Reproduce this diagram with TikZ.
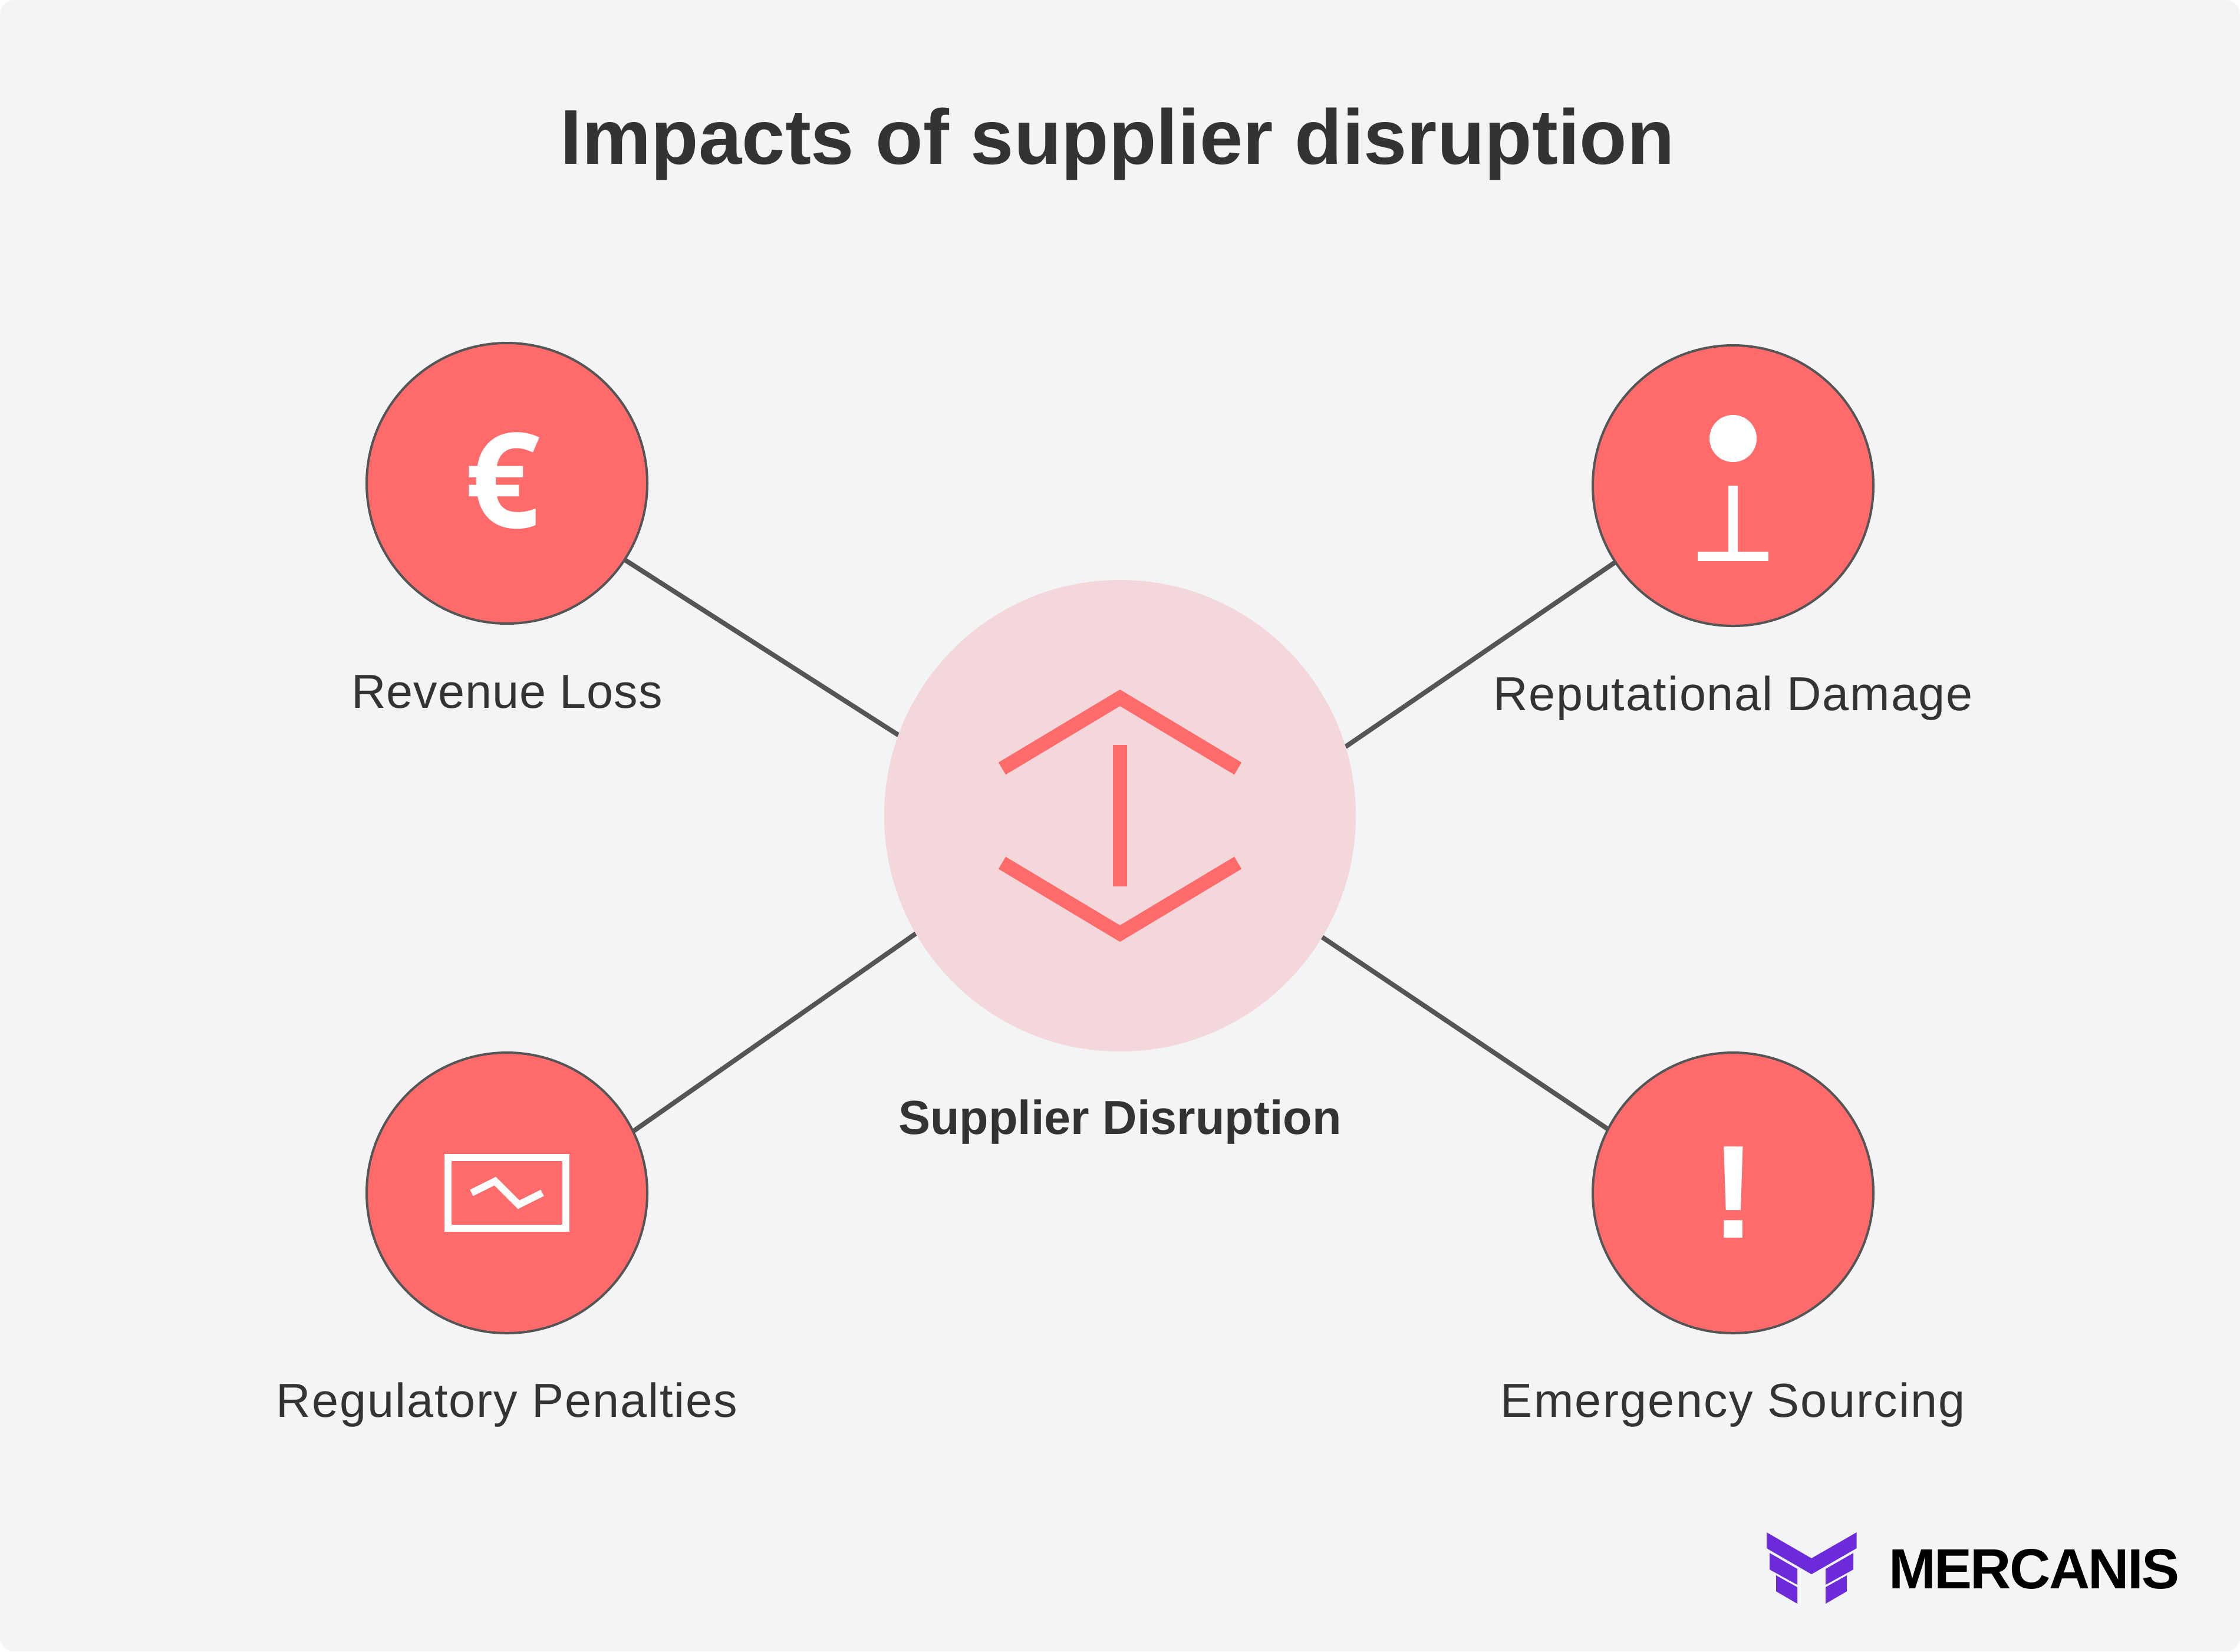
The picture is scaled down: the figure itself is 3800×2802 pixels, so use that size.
\documentclass[tikz,border=0pt]{standalone}
\usepackage{fontspec}
\setmainfont{Liberation Sans}
\newfontfamily\iconfont{Open Sans}[UprightFont=* Bold]
\newfontfamily\bangfont{Liberation Sans Bold}
\newfontfamily\titlefont{Liberation Sans Bold}
\newfontfamily\labelfont{Liberation Sans}
\newfontfamily\boldlabel{Liberation Sans Bold}
\newfontfamily\logofont{Liberation Sans Bold}[LetterSpace=-2.75]
\usetikzlibrary{calc}
\definecolor{bgc}{HTML}{F2F4F6}
\definecolor{redc}{HTML}{FF6B6B}
\definecolor{palec}{HTML}{F4D7DA}
\definecolor{linec}{HTML}{555555}
\definecolor{textc}{HTML}{333333}
\definecolor{logoc}{HTML}{6D2ADB}
\pgfdeclarelayer{bgfill}
\pgfdeclarelayer{conns}
\pgfsetlayers{bgfill,conns,main}
\tikzset{
  impact/.style={circle,fill=redc,draw=linec,line width=0.8pt,minimum size=95.2pt,inner sep=0pt,outer sep=0pt},
  hub/.style={circle,fill=palec,minimum size=160pt,inner sep=0pt,outer sep=0pt},
  conn/.style={draw=linec,line width=1.6pt},
  lbl/.style={anchor=base,text=textc,inner sep=0pt,font=\labelfont\fontsize{16.2}{20}\selectfont},
  hublbl/.style={anchor=base,text=textc,inner sep=0pt,font=\boldlabel\fontsize{16.2}{20}\selectfont},
  ttl/.style={anchor=base,text=textc,inner sep=0pt,font=\titlefont\fontsize{26.37}{32}\selectfont},
  glyph/.style={anchor=base,text=white,inner sep=0pt,font=\iconfont\fontsize{45}{50}\selectfont},
  bangglyph/.style={anchor=base,text=white,inner sep=0pt,font=\bangfont\fontsize{45}{50}\selectfont},
  hubicon/.style={draw=redc,line width=4.8pt,miter limit=10},
  whiteicon/.style={draw=white,line width=3.2pt},
  whiteline/.style={draw=white,line width=2.4pt,miter limit=10},
  logopart/.style={fill=logoc}
}
\begin{document}
\begin{tikzpicture}[x=0.2pt,y=-0.2pt]
\begin{pgfonlayer}{bgfill}
\fill[white] (0,0) rectangle (3800,2802);
\fill[bgc,rounded corners=4.8pt] (0,0) rectangle (3800,2802);
\end{pgfonlayer}
\useasboundingbox (0,0) rectangle (3800,2802);
\node[ttl] (title) at (1896,278) {Impacts of supplier disruption};
\node[impact] (tl) at (860,820) {};
\node[impact] (tr) at (2940,824) {};
\node[impact] (bl) at (860,2024) {};
\node[impact] (br) at (2940,2024) {};
\node[hub] (hub) at (1900,1384) {};
\begin{pgfonlayer}{conns}
\draw[conn] (tl.-33.6) -- (hub.160.8);
\draw[conn] (tr.213.2) -- (hub.17.6);
\draw[conn] (bl.26.5) -- (hub.210.2);
\draw[conn] (br.153.5) -- (hub.-31.3);
\end{pgfonlayer}
% hub icon
\draw[hubicon] (1700,1304) -- (1900,1184) -- (2100,1304);
\draw[hubicon] (1700,1464) -- (1900,1584) -- (2100,1464);
\draw[hubicon] (1900,1264) -- (1900,1504);
% impact icons
\node[glyph] (euro) at (853,895) {€};
\node[bangglyph] (bang) at (2941,2100) {!};
\fill[white] (2940,744) circle[radius=40];
\draw[whiteicon] (2940,824) -- (2940,944);
\draw[whiteicon] (2880,944) -- (3000,944);
\draw[whiteline] (760,1964) rectangle (960,2084);
\draw[whiteline] (800,2024) -- (840,2004) -- (880,2044) -- (920,2024);
% labels
\node[lbl] (l1) at (860,1201) {\addfontfeature{LetterSpace=1.2}Revenue Loss};
\node[lbl] (l2) at (2940,1205) {\addfontfeature{LetterSpace=2.2}Reputational Damage};
\node[lbl] (l3) at (860,2404) {\addfontfeature{LetterSpace=2.4}Regulatory Penalties};
\node[lbl] (l4) at (2940,2404) {\addfontfeature{LetterSpace=2.8}Emergency Sourcing};
\node[hublbl] (l5) at (1900,1924) {Supplier Disruption};
% logo
\fill[logopart] (2997,2600) -- (3073,2644) -- (3149.5,2600) -- (3149.5,2627) -- (3073,2671) -- (2997,2627) -- cycle;
\fill[logopart] (3002,2635) -- (3049,2662) -- (3049,2689) -- (3002,2663) -- cycle;
\fill[logopart] (3013,2673) -- (3049,2693) -- (3049,2721) -- (3013,2700) -- cycle;
\fill[logopart] (3144,2635) -- (3097,2662) -- (3097,2689) -- (3144,2663) -- cycle;
\fill[logopart] (3133,2673) -- (3097,2693) -- (3097,2721) -- (3133,2700) -- cycle;
\node[anchor=base west,inner sep=0pt,text=black,font=\logofont\fontsize{19.2}{24}\selectfont] (logo) at (3203,2695) {MERCANIS};
\end{tikzpicture}
\end{document}
